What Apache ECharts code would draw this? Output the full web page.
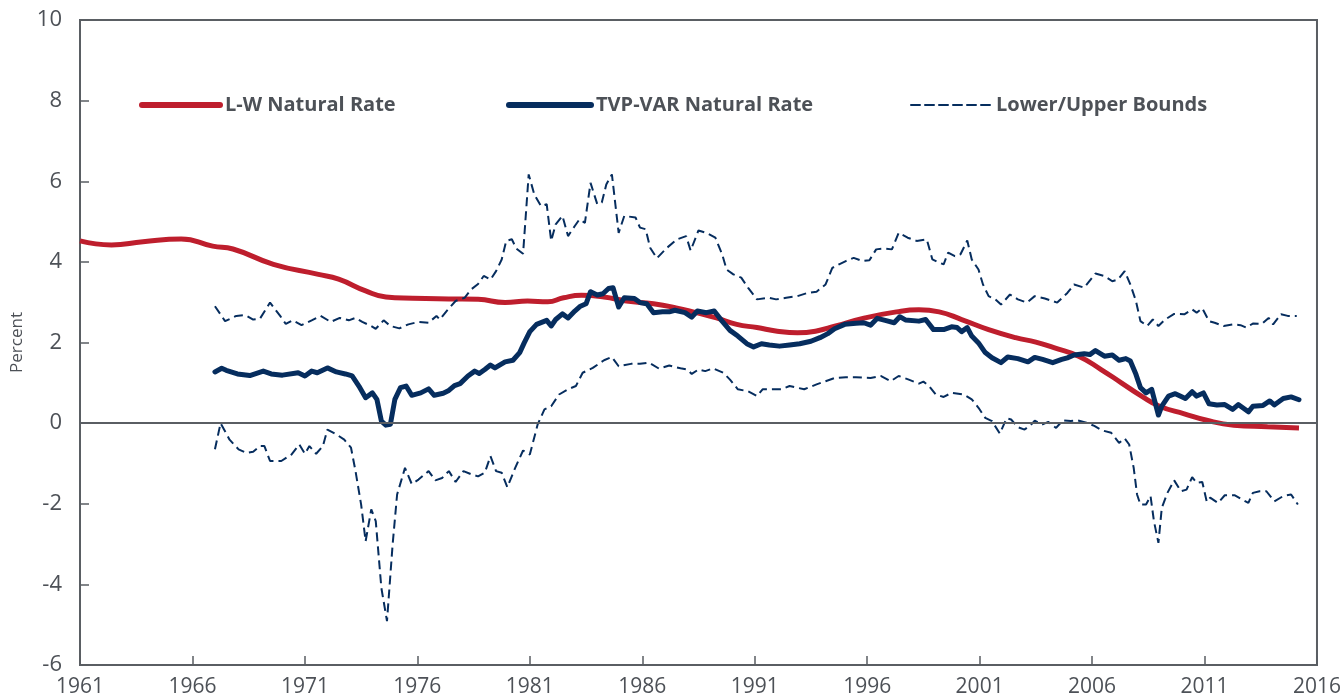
<!DOCTYPE html>
<html>
<head>
    <meta http-equiv="Content-Type" content="text/html; charset=UTF-8">
    <title>Natural Rate Estimates</title>
    <script src="https://cdn.jsdelivr.net/npm/echarts@6/dist/echarts.min.js"></script>
</head>
<body style="margin:0;background:#fff;">
    <div id="main" style="width: 1344px;height:700px;"></div>

    <script type="text/javascript">
        // tick labels on the x axis
        var tickYears = [1961, 1966, 1971, 1976, 1981, 1986, 1991, 1996, 2001, 2006, 2011, 2016];

        // L-W natural rate (smooth)
        var lwYears = [1961.0, 1962.4, 1963.8, 1965.5, 1966.9, 1967.8, 1969.6, 1971.6, 1972.5, 1973.7, 1974.6, 1975.8, 1977.4,
            1978.7, 1979.9, 1980.9, 1981.8, 1982.5, 1983.3, 1984.3, 1985.3, 1986.5, 1987.5, 1988.4, 1989.3, 1990.2,
            1991.1, 1992.0, 1992.9, 1993.7, 1994.6, 1995.9, 1997.3, 1998.3, 1999.2, 2000.2, 2001.4, 2002.6,
            2003.5, 2004.3, 2005.4, 2006.4, 2007.3, 2008.2, 2009.0, 2010.1, 2011.1, 2012.3, 2013.8, 2015.2];
        var lwRate = [4.52, 4.42, 4.5, 4.57, 4.39, 4.32, 3.94, 3.69, 3.57, 3.28, 3.13, 3.1, 3.08,
            3.07, 2.99, 3.03, 3.01, 3.11, 3.17, 3.13, 3.03, 2.96, 2.86, 2.74, 2.61, 2.45,
            2.37, 2.28, 2.24, 2.28, 2.41, 2.61, 2.76, 2.81, 2.76, 2.57, 2.32, 2.12,
            2.01, 1.87, 1.66, 1.33, 1.0, 0.67, 0.42, 0.23, 0.07, -0.05, -0.09, -0.12];

        // TVP-VAR natural rate
        var tvpYears = [1967.0, 1967.3, 1967.5, 1968.0, 1968.55, 1969.15, 1969.5, 1970.0, 1970.7, 1971.0, 1971.3, 1971.55, 1972.0,
            1972.4, 1972.8, 1973.1, 1973.4, 1973.7, 1974.0, 1974.2, 1974.4, 1974.6, 1974.8, 1975.0, 1975.25, 1975.5,
            1975.75, 1976.15, 1976.5, 1976.75, 1977.15, 1977.4, 1977.65, 1977.9, 1978.25, 1978.55,
            1978.75, 1979.0, 1979.25, 1979.45, 1979.9, 1980.25, 1980.55, 1980.75, 1981.0, 1981.3, 1981.75, 1981.95,
            1982.15, 1982.45, 1982.7, 1983.0, 1983.25, 1983.5, 1983.7, 1984.0, 1984.25, 1984.5, 1984.7, 1984.95,
            1985.2, 1985.65, 1985.9, 1986.2, 1986.5, 1986.9, 1987.2, 1987.45, 1987.9, 1988.2, 1988.45, 1988.85,
            1989.2, 1989.55, 1989.9, 1990.25, 1990.65, 1990.95,
            1991.3, 1991.65, 1992.1, 1992.55, 1993.0, 1993.5, 1993.9, 1994.25, 1994.55, 1995.0, 1995.5, 1995.85,
            1996.15, 1996.45, 1996.8, 1997.2, 1997.45, 1997.7, 1998.3, 1998.6, 1998.95, 1999.4, 1999.75, 2000.0,
            2000.2, 2000.45, 2000.65, 2000.95, 2001.25, 2001.55, 2001.95, 2002.25, 2002.7, 2003.15, 2003.45,
            2003.8, 2004.25, 2004.65, 2004.9, 2005.2, 2005.65, 2005.9, 2006.15, 2006.55, 2006.9, 2007.2, 2007.5,
            2007.7, 2007.95, 2008.15, 2008.4, 2008.65, 2008.95, 2009.1, 2009.4, 2009.7, 2010.15, 2010.45, 2010.65,
            2010.95, 2011.2, 2011.55, 2011.9, 2012.25, 2012.5, 2012.95, 2013.15, 2013.6, 2013.9, 2014.1, 2014.5,
            2014.85, 2015.2];
        var tvpRate = [1.27, 1.36, 1.31, 1.22, 1.18, 1.29, 1.22, 1.19, 1.25, 1.17, 1.29, 1.25, 1.37,
            1.27, 1.22, 1.17, 0.92, 0.63, 0.75, 0.59, 0.05, -0.05, -0.03, 0.59, 0.88, 0.92,
            0.69, 0.75, 0.85, 0.69, 0.74, 0.81, 0.93, 0.98, 1.17, 1.29,
            1.23, 1.33, 1.44, 1.37, 1.52, 1.56, 1.75, 1.99, 2.27, 2.45, 2.55, 2.41,
            2.57, 2.71, 2.61, 2.78, 2.9, 2.96, 3.26, 3.18, 3.21, 3.34, 3.36, 2.88,
            3.11, 3.09, 2.99, 2.96, 2.74, 2.76, 2.76, 2.8, 2.74, 2.63, 2.78, 2.74,
            2.78, 2.53, 2.3, 2.16, 1.97, 1.89,
            1.97, 1.94, 1.91, 1.94, 1.97, 2.03, 2.12, 2.22, 2.34, 2.45, 2.48, 2.49,
            2.43, 2.6, 2.55, 2.49, 2.64, 2.56, 2.53, 2.57, 2.32, 2.32, 2.39, 2.37,
            2.27, 2.37, 2.16, 1.99, 1.75, 1.62, 1.5, 1.64, 1.6, 1.52, 1.63,
            1.58, 1.5, 1.58, 1.62, 1.69, 1.72, 1.7, 1.8, 1.66, 1.69, 1.56, 1.6,
            1.54, 1.21, 0.88, 0.75, 0.84, 0.2, 0.42, 0.67, 0.73, 0.61, 0.78, 0.67,
            0.75, 0.48, 0.45, 0.46, 0.34, 0.46, 0.28, 0.42, 0.44, 0.55, 0.45, 0.61,
            0.65, 0.58];

        // upper bound
        var upperYears = [1967.0, 1967.45, 1967.95, 1968.35, 1968.7, 1969.0, 1969.45, 1969.9, 1970.15, 1970.45, 1970.85, 1971.3,
            1971.7, 1972.15, 1972.55, 1972.95, 1973.25, 1973.55, 1973.95, 1974.15, 1974.5, 1974.8, 1975.2, 1975.6,
            1976.05, 1976.5, 1976.85, 1977.0, 1977.3, 1977.7, 1978.1, 1978.4,
            1978.7, 1978.95, 1979.25, 1979.5, 1979.75, 1979.95, 1980.2, 1980.4, 1980.7, 1980.95, 1981.2, 1981.5,
            1981.75, 1981.95, 1982.15, 1982.45, 1982.7, 1983.0, 1983.2, 1983.45, 1983.7, 1984.0, 1984.2, 1984.4,
            1984.65, 1984.95, 1985.2, 1985.7, 1985.9, 1986.15, 1986.35, 1986.65, 1987.1, 1987.55, 1987.95, 1988.15,
            1988.5, 1988.85, 1989.25, 1989.55, 1989.75, 1990.05, 1990.4, 1990.7,
            1991.1, 1991.6, 1991.95, 1992.4, 1992.9, 1993.35, 1993.75, 1994.15, 1994.45, 1994.75, 1995.05, 1995.4,
            1995.8, 1996.1, 1996.4, 1996.75, 1997.1, 1997.4, 1997.8, 1998.2, 1998.65, 1998.9, 1999.2, 1999.4,
            1999.6, 1999.9, 2000.15, 2000.45, 2000.65, 2000.95, 2001.15, 2001.4, 2001.7, 2001.95, 2002.35, 2002.7,
            2003.1, 2003.45, 2003.9, 2004.45, 2004.9, 2005.2, 2005.65, 2006.15, 2006.55, 2006.9, 2007.15, 2007.45,
            2007.7, 2007.95, 2008.15, 2008.45, 2008.7, 2008.95, 2009.25, 2009.65, 2010.1, 2010.45, 2010.65, 2010.9,
            2011.2, 2011.45, 2011.85, 2012.3, 2012.6, 2012.85, 2013.15, 2013.55, 2013.85, 2014.05, 2014.4, 2014.7,
            2015.1];
        var upper = [2.9, 2.53, 2.66, 2.68, 2.57, 2.59, 2.99, 2.66, 2.46, 2.55, 2.43, 2.55,
            2.66, 2.51, 2.61, 2.55, 2.61, 2.51, 2.41, 2.34, 2.55, 2.41, 2.35, 2.45,
            2.51, 2.49, 2.66, 2.57, 2.78, 3.03, 3.11, 3.32,
            3.45, 3.65, 3.56, 3.77, 4.06, 4.52, 4.56, 4.33, 4.2, 6.17, 5.67, 5.38,
            5.43, 4.52, 4.93, 5.14, 4.64, 4.89, 5.05, 4.97, 5.96, 5.43, 5.47, 5.92,
            6.17, 4.72, 5.14, 5.1, 4.85, 4.81, 4.35, 4.09, 4.35, 4.56, 4.64, 4.28,
            4.78, 4.72, 4.6, 4.19, 3.81, 3.69, 3.61, 3.36,
            3.07, 3.11, 3.07, 3.11, 3.15, 3.23, 3.26, 3.44, 3.85, 3.94, 4.02, 4.1,
            4.02, 4.04, 4.31, 4.33, 4.31, 4.72, 4.6, 4.52, 4.56, 4.06, 3.98, 3.94,
            4.23, 4.14, 4.19, 4.53, 4.06, 3.81, 3.44, 3.15, 3.07, 2.94, 3.19, 3.07,
            2.99, 3.15, 3.09, 2.99, 3.23, 3.44, 3.36, 3.71, 3.65, 3.52, 3.56, 3.77,
            3.44, 3.03, 2.53, 2.41, 2.57, 2.41, 2.57, 2.71, 2.7, 2.82, 2.74, 2.85,
            2.53, 2.49, 2.41, 2.45, 2.43, 2.37, 2.47, 2.46, 2.61, 2.45, 2.7, 2.66,
            2.66];

        // lower bound
        var lowerYears = [1967.0, 1967.25, 1967.65, 1968.05, 1968.4, 1968.7, 1969.0, 1969.2, 1969.45, 1969.95, 1970.4, 1970.75,
            1971.0, 1971.2, 1971.5, 1971.8, 1972.0, 1972.4, 1972.75, 1973.05, 1973.25, 1973.5, 1973.7, 1973.95,
            1974.15, 1974.4, 1974.65, 1974.9, 1975.1, 1975.45, 1975.75, 1976.05, 1976.5, 1976.8, 1977.1, 1977.4,
            1977.7, 1978.05, 1978.4,
            1978.7, 1979.0, 1979.25, 1979.5, 1979.75, 1980.0, 1980.35, 1980.7, 1981.0, 1981.35, 1981.65, 1981.95,
            1982.3, 1982.7, 1983.05, 1983.35, 1983.8, 1984.3, 1984.65, 1984.95, 1985.5, 1985.9, 1986.3, 1986.75,
            1987.2, 1987.7, 1988.0, 1988.2, 1988.5, 1988.8, 1989.15, 1989.6, 1989.9, 1990.25, 1990.7,
            1991.1, 1991.35, 1991.8, 1992.2, 1992.55, 1993.2, 1993.75, 1994.15, 1994.55, 1995.05, 1995.5, 1996.15,
            1996.6, 1997.05, 1997.4, 1997.85, 1998.3, 1998.5, 1998.75, 1999.05, 1999.4, 1999.75, 2000.3, 2000.65,
            2000.95, 2001.25, 2001.55, 2001.9, 2002.2, 2002.4, 2002.7, 2003.0, 2003.3,
            2003.45, 2003.8, 2004.05, 2004.4, 2004.7, 2005.05, 2005.35, 2005.75, 2006.1, 2006.45, 2006.85, 2007.2,
            2007.45, 2007.65, 2007.85, 2008.0, 2008.15, 2008.4, 2008.6, 2008.75, 2008.95, 2009.1, 2009.35, 2009.65,
            2009.95, 2010.2, 2010.45, 2010.65, 2010.9, 2011.1, 2011.25, 2011.6, 2011.9, 2012.35, 2012.65, 2012.95,
            2013.15, 2013.45, 2013.75, 2014.1, 2014.5, 2014.85, 2015.15];
        var lower = [-0.65, 0.0, -0.41, -0.65, -0.74, -0.71, -0.57, -0.57, -0.94, -0.94, -0.78, -0.53,
            -0.76, -0.57, -0.76, -0.57, -0.16, -0.28, -0.41, -0.61, -1.19, -2.02, -2.93, -2.14,
            -2.43, -4.09, -4.91, -3.01, -1.77, -1.11, -1.51, -1.4, -1.19, -1.42, -1.36, -1.19,
            -1.46, -1.19, -1.27,
            -1.32, -1.23, -0.82, -1.19, -1.23, -1.59, -1.11, -0.68, -0.78, -0.03, 0.34, 0.42,
            0.71, 0.84, 0.92, 1.25, 1.37, 1.56, 1.64, 1.41, 1.47, 1.47, 1.5, 1.35,
            1.43, 1.36, 1.33, 1.22, 1.33, 1.29, 1.36, 1.25, 1.08, 0.84, 0.79,
            0.67, 0.84, 0.84, 0.84, 0.92, 0.84, 0.96, 1.04, 1.12, 1.14, 1.14, 1.12,
            1.17, 1.04, 1.17, 1.08, 0.98, 1.03, 0.92, 0.71, 0.65, 0.75, 0.71, 0.59,
            0.38, 0.13, 0.05, -0.26, 0.12, 0.09, -0.1, -0.16, -0.03,
            0.06, -0.03, 0.03, -0.12, 0.07, 0.05, 0.07, 0.01, -0.07, -0.18, -0.24, -0.49,
            -0.38, -0.53, -1.11, -1.77, -2.02, -2.02, -1.81, -2.43, -2.97, -2.1, -1.73, -1.42,
            -1.69, -1.65, -1.34, -1.48, -1.46, -1.95, -1.85, -1.98, -1.79, -1.79, -1.89, -1.98,
            -1.73, -1.69, -1.69, -1.94, -1.81, -1.77, -2.02];

        function pairs(xs, ys) {
            return xs.map(function (x, i) { return [x, ys[i]]; });
        }

        var axisColor = '#5a5e63';
        var textColor = '#4d5157';
        var red = '#be1e2d';
        var navy = '#062d5e';
        var font = '"Open Sans", "Noto Sans", sans-serif';

        var legendText = { fontFamily: font, fontSize: 20, fontWeight: 'bold', color: textColor };
        // legend entries: line only, no marker
        function legendBox(name, left, width, lineW) {
            return {
                data: [name], left: left, top: 90,
                itemWidth: width, itemHeight: 14, itemGap: 0,
                itemStyle: { opacity: 0 },
                lineStyle: { width: lineW, cap: 'round' },
                textStyle: legendText
            };
        }

        var myChart = echarts.init(document.getElementById('main'));
        myChart.setOption({
            animation: false,
            backgroundColor: '#fff',
            grid: {
                left: 80, right: 19, top: 20, bottom: 35,
                show: true, borderColor: axisColor, borderWidth: 2
            },
            legend: [
                legendBox('L-W Natural Rate', 134, 78, 6),
                legendBox('TVP-VAR Natural Rate', 501, 82, 6),
                legendBox('Lower/Upper Bounds', 905, 80, 2)
            ],
            xAxis: {
                type: 'value',
                min: 1961,
                max: 2016,
                axisLine: { onZero: false, lineStyle: { color: axisColor, width: 2 } },
                axisTick: { inside: true, length: 9, customValues: tickYears, lineStyle: { color: axisColor, width: 1.5 } },
                axisLabel: {
                    customValues: tickYears, margin: 12, color: textColor, fontFamily: font, fontSize: 21,
                    formatter: function (v) { return String(v); }
                },
                splitLine: { show: false }
            },
            yAxis: {
                type: 'value',
                min: -6,
                max: 10,
                interval: 2,
                name: 'Percent',
                nameLocation: 'middle',
                nameGap: 50,
                nameTextStyle: { color: textColor, fontFamily: font, fontSize: 17 },
                axisLine: { show: true, lineStyle: { color: axisColor, width: 2 } },
                axisTick: { show: true, inside: true, length: 9, lineStyle: { color: axisColor, width: 1.5 } },
                axisLabel: { margin: 18, color: textColor, fontFamily: font, fontSize: 22 },
                splitLine: { show: false }
            },
            series: [
                {
                    name: 'L-W Natural Rate',
                    type: 'line',
                    data: pairs(lwYears, lwRate),
                    smooth: true,
                    showSymbol: false,
                    symbol: 'none',
                    lineStyle: { color: red, width: 5 },
                    itemStyle: { color: red },
                    markLine: {
                        silent: true,
                        symbol: 'none',
                        label: { show: false },
                        lineStyle: { color: axisColor, width: 2, type: 'solid' },
                        data: [{ yAxis: 0 }]
                    }
                },
                {
                    name: 'TVP-VAR Natural Rate',
                    type: 'line',
                    data: pairs(tvpYears, tvpRate),
                    showSymbol: false,
                    symbol: 'none',
                    lineStyle: { color: navy, width: 5, join: 'round', cap: 'round' },
                    itemStyle: { color: navy }
                },
                {
                    name: 'Lower/Upper Bounds',
                    type: 'line',
                    data: pairs(upperYears, upper),
                    showSymbol: false,
                    symbol: 'none',
                    lineStyle: { color: navy, width: 2, type: [9, 5] },
                    itemStyle: { color: navy }
                },
                {
                    name: 'Lower/Upper Bounds',
                    type: 'line',
                    data: pairs(lowerYears, lower),
                    showSymbol: false,
                    symbol: 'none',
                    lineStyle: { color: navy, width: 2, type: [9, 5] },
                    itemStyle: { color: navy }
                }
            ]
        });
    </script>
</body>
</html>
